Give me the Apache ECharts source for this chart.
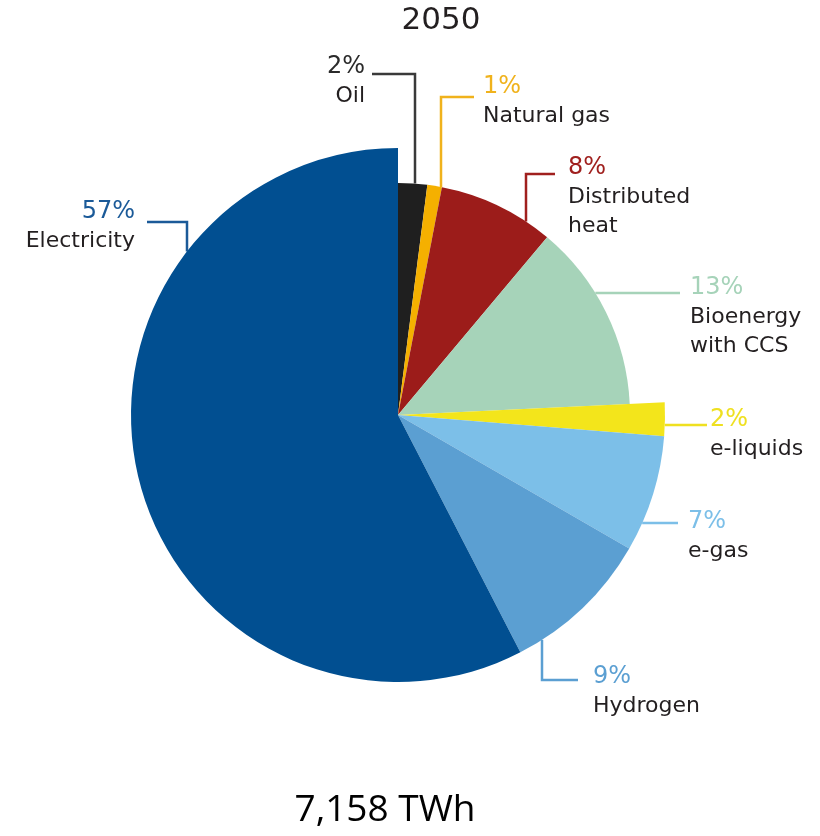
<!DOCTYPE html>
<html>
<head>
<meta charset="utf-8">
<script src="https://cdn.jsdelivr.net/npm/echarts@6/dist/echarts.min.js"></script>
<style>
  html, body { margin: 0; padding: 0; background: #ffffff; }
  #chart { width: 820px; height: 836px; }
</style>
</head>
<body>
<div id="chart"></div>
<script>
// Final energy mix in 2050, share of total (%)
const categories = ['Oil', 'Natural gas', 'Distributed heat', 'Bioenergy with CCS', 'e-liquids', 'e-gas', 'Hydrogen', 'Electricity'];
const shares = [2, 1, 8, 13, 2, 7, 9, 57];
const nameLines = [['Oil'], ['Natural gas'], ['Distributed', 'heat'], ['Bioenergy', 'with CCS'], ['e-liquids'], ['e-gas'], ['Hydrogen'], ['Electricity']];
const yearLabel = '2050';
const totalLabel = '7,158 TWh';

// Styling
const sliceColors = ['#1f1f1f', '#f5b000', '#9c1c1a', '#a6d3b9', '#f3e51b', '#7cbfe8', '#5b9fd2', '#014f91'];
const pctColors   = ['#2a2a2a', '#f0b21c', '#a0201e', '#a6d3b9', '#efe020', '#7cbfe8', '#5b9fd2', '#1b5a98'];
const lineColors  = ['#3a3a3a', '#f0b21c', '#a0201e', '#a6d3b9', '#efe020', '#7cbfe8', '#5b9fd2', '#1b5a98'];
const onOuterRing = [false, false, false, false, true, true, true, true];

// Geometry of the pie
const CX = 398, CY = 415, R_IN = 232, R_OUT = 267;

// Label placement: text anchor plus an elbow leader that runs into the arc
const labelSpots = [
  { x: 365, y: 52.5, align: 'right', leg: 'v', at: 415, side: -1, bend: 74, end: 372 },
  { x: 483, y: 72.5, align: 'left',  leg: 'v', at: 441, side: -1, bend: 97, end: 474 },
  { x: 568, y: 153.5, align: 'left', leg: 'v', at: 526, side: -1, bend: 174, end: 555 },
  { x: 690, y: 273.5, align: 'left', leg: 'h', at: 293, side: 1, end: 680 },
  { x: 710, y: 405.5, align: 'left', leg: 'h', at: 425, side: 1, end: 707 },
  { x: 688, y: 507.5, align: 'left', leg: 'h', at: 523, side: 1, end: 678 },
  { x: 593, y: 662.5, align: 'left', leg: 'v', at: 542, side: 1, bend: 680, end: 578 },
  { x: 135, y: 197.5, align: 'right', leg: 'v', at: 187, side: -1, bend: 222, end: 147 }
];

const PCT_FONT = 'DejaVu Sans';
const NAME_FONT = 'DejaVu Sans';

function leaderPoints(i) {
  const s = labelSpots[i];
  const R = onOuterRing[i] ? R_OUT : R_IN;
  if (s.leg === 'v') {
    const ay = CY + s.side * Math.sqrt(R * R - (s.at - CX) * (s.at - CX));
    return [[s.at, ay], [s.at, s.bend], [s.end, s.bend]];
  }
  const ax = CX + s.side * Math.sqrt(R * R - (s.at - CY) * (s.at - CY));
  return [[ax, s.at], [(ax + s.end) / 2, s.at], [s.end, s.at]];
}

function ringData(outer) {
  return categories.map((name, i) => {
    const visible = onOuterRing[i] === outer;
    const item = {
      name: name,
      value: shares[i],
      itemStyle: { color: visible ? sliceColors[i] : 'rgba(0,0,0,0)' }
    };
    if (visible) {
      item.label = {
        show: true,
        formatter: '{p|' + shares[i] + '%}\n' + nameLines[i].map(t => '{n|' + t + '}').join('\n'),
        rich: {
          p: { fontFamily: PCT_FONT, fontSize: 24, lineHeight: 29, color: pctColors[i] },
          n: { fontFamily: NAME_FONT, fontSize: 22, lineHeight: 29, color: '#231f20' }
        }
      };
      item.labelLine = { show: true, lineStyle: { color: lineColors[i], width: 2.5 } };
    } else {
      item.label = { show: false };
      item.labelLine = { show: false };
    }
    return item;
  });
}

function makeLayout(outer) {
  return function (params) {
    const i = params.dataIndex;
    if (onOuterRing[i] !== outer) return {};
    const s = labelSpots[i];
    return {
      x: s.x,
      y: s.y,
      align: s.align,
      verticalAlign: 'top',
      labelLinePoints: leaderPoints(i)
    };
  };
}

function pieSeries(outer) {
  return {
    type: 'pie',
    center: [CX, CY],
    radius: [0, outer ? R_OUT : R_IN],
    startAngle: 90,
    clockwise: true,
    avoidLabelOverlap: false,
    silent: true,
    animation: false,
    itemStyle: { borderWidth: 0 },
    label: { position: 'outside' },
    labelLine: { show: true, length: 10, length2: 10, smooth: false },
    labelLayout: makeLayout(outer),
    data: ringData(outer)
  };
}

const chart = echarts.init(document.getElementById('chart'), null, { renderer: 'canvas' });
chart.setOption({
  backgroundColor: '#ffffff',
  animation: false,
  series: [pieSeries(false), pieSeries(true)],
  graphic: [
    {
      type: 'text', x: 441, y: 21,
      style: {
        text: yearLabel, fill: '#231f20',
        font: '31px "DejaVu Sans"', textAlign: 'center', textVerticalAlign: 'middle'
      }
    },
    {
      type: 'text', x: 385, y: 810,
      style: {
        text: totalLabel, fill: '#000000',
        font: '37px "Open Sans"', textAlign: 'center', textVerticalAlign: 'middle'
      }
    }
  ]
});
</script>
</body>
</html>
